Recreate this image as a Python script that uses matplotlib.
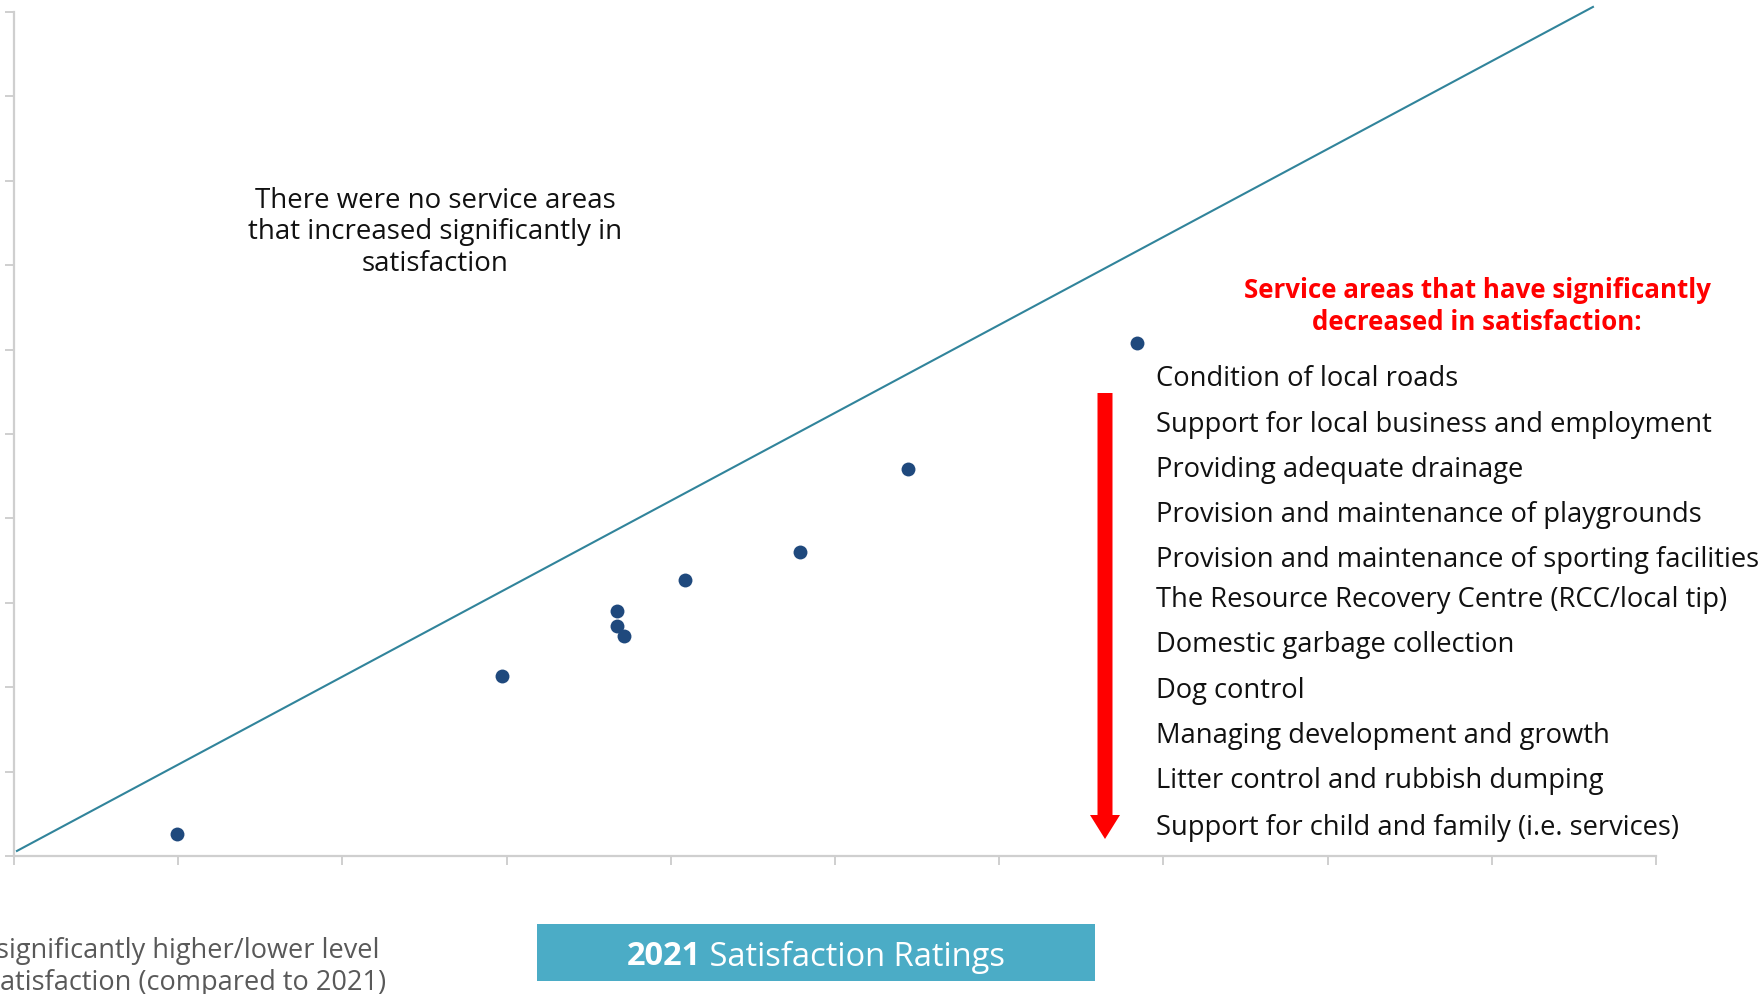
import matplotlib
matplotlib.use("Agg")
import matplotlib.pyplot as plt
from matplotlib.patches import Rectangle, FancyArrow

# ---------------- data ----------------
x_2021 = [44.95, 54.86, 58.35, 58.35, 58.56, 60.44, 63.93, 67.22, 74.21]
y_2025 = [41.32, 50.65, 54.52, 53.65, 53.05, 56.38, 57.98, 62.91, 70.38]
line_x = [40.09, 88.08]
line_y = [40.30, 90.30]
x_ticks = [40, 45, 50, 55, 60, 65, 70, 75, 80, 85, 90]
y_ticks = [40, 45, 50, 55, 60, 65, 70, 75, 80, 85, 90]

no_increase_text = ["There were no service areas",
                    "that increased significantly in",
                    "satisfaction"]
decrease_header = ["Service areas that have significantly",
                   "decreased in satisfaction:"]
decreased_areas = [
    "Condition of local roads",
    "Support for local business and employment",
    "Providing adequate drainage",
    "Provision and maintenance of playgrounds",
    "Provision and maintenance of sporting facilities",
    "The Resource Recovery Centre (RCC/local tip)",
    "Domestic garbage collection",
    "Dog control",
    "Managing development and growth",
    "Litter control and rubbish dumping",
    "Support for child and family (i.e. services)",
]
legend_lines = ["significantly higher/lower level",
                "satisfaction (compared to 2021)"]
x_title_bold = "2021"
x_title_rest = " Satisfaction Ratings"

# ---------------- layout ----------------
W, H = 1764, 995
FONT = "Open Sans"
BOLD_FONT = "Open Sans"
DY = 3  # vertical text nudge in pixels
fig = plt.figure(figsize=(W / 100, H / 100), dpi=100)
renderer = fig.canvas.get_renderer()


def fx(x):
    return x / W


def fy(y):
    return 1 - y / H


ax = fig.add_axes([fx(14), fy(857), fx(1656) - fx(14), fy(13) - fy(857)])
grey = "#CFCFCF"
ax.plot(line_x, line_y, color="#31849B", lw=1.5, clip_on=False, zorder=2)
ax.scatter(x_2021, y_2025, s=100, color="#1F497D", zorder=3, linewidths=0)
ax.set_xlim(x_ticks[0], x_ticks[-1])
ax.set_ylim(y_ticks[0], y_ticks[-1])
ax.set_xticks(x_ticks)
ax.set_yticks(y_ticks)
ax.set_xticklabels([])
ax.set_yticklabels([])
for s in ["top", "right"]:
    ax.spines[s].set_visible(False)
for s in ["left", "bottom"]:
    ax.spines[s].set_color(grey)
    ax.spines[s].set_linewidth(1.6)
ax.tick_params(axis="both", direction="out", length=6.5, width=1.4, color=grey)
ax.patch.set_alpha(0)


def fit(t, target_w):
    bb = t.get_window_extent(renderer)
    t.set_fontsize(t.get_fontsize() * target_w / bb.width)
    return t


def put(x, y, s, ha="left", family=FONT, **kw):
    return fig.text(fx(x), fy(y + DY), s, ha=ha, va="center", family=family, **kw)


# upper-left annotation
ys = [198, 229.5, 261]
t0 = put(435, ys[0], no_increase_text[0], ha="center", fontsize=20, color="#111111")
fit(t0, 360)
for s, y in zip(no_increase_text[1:], ys[1:]):
    put(435, y, s, ha="center", fontsize=t0.get_fontsize(), color="#111111")

# red header
hy = [288, 319.5]
h0 = put(1477, hy[0], decrease_header[0], ha="center", fontsize=20,
         color="#FF0000", fontweight="bold", family=BOLD_FONT)
fit(h0, 465)
put(1477, hy[1], decrease_header[1], ha="center", fontsize=h0.get_fontsize(),
    color="#FF0000", fontweight="bold", family=BOLD_FONT)

# list
list_y = [376, 422, 467, 512, 557, 597, 642, 688, 733.5, 778.5, 825]
ref = put(0, -100, decreased_areas[1], fontsize=20)
fit(ref, 555)
fs_list = ref.get_fontsize()
ref.remove()
for s, y in zip(decreased_areas, list_y):
    put(1156, y, s, fontsize=fs_list, color="#111111")

# red arrow
arrow_top, arrow_tip, arrow_x = 394, 840, 1105
fig.add_artist(FancyArrow(fx(arrow_x), fy(arrow_top), 0, fy(arrow_tip) - fy(arrow_top),
                          width=fx(15), head_width=fx(30), head_length=(24 / H),
                          length_includes_head=True, color="#FF0000",
                          transform=fig.transFigure, linewidth=0))

# bottom-left legend text (cut off at the edge, as in the source slide)
l0 = put(379, 948, legend_lines[0], ha="right", fontsize=20, color="#595959")
fit(l0, 382)
put(386, 980, legend_lines[1], ha="right", fontsize=l0.get_fontsize(), color="#595959")

# x-axis title box
fig.add_artist(Rectangle((fx(537), fy(982)), fx(1095) - fx(537), fy(925) - fy(982),
                         transform=fig.transFigure, facecolor="#4BACC6",
                         edgecolor="none"))
tb = fig.text(0, 0, x_title_bold, family=BOLD_FONT, fontweight="bold", fontsize=20,
              color="white", va="center")
tr = fig.text(0, 0, x_title_rest, family=FONT, fontsize=20, color="white", va="center")
wb = tb.get_window_extent(renderer).width
wr = tr.get_window_extent(renderer).width
scale = 378 / (wb + wr)
tb.set_fontsize(20 * scale)
tr.set_fontsize(20 * scale)
wb = tb.get_window_extent(renderer).width
wr = tr.get_window_extent(renderer).width
x_start = 816 - (wb + wr) / 2
tb.set_position((fx(x_start), fy(954 + DY)))
tr.set_position((fx(x_start + wb), fy(954 + DY)))

fig.savefig("out.png", dpi=100)
